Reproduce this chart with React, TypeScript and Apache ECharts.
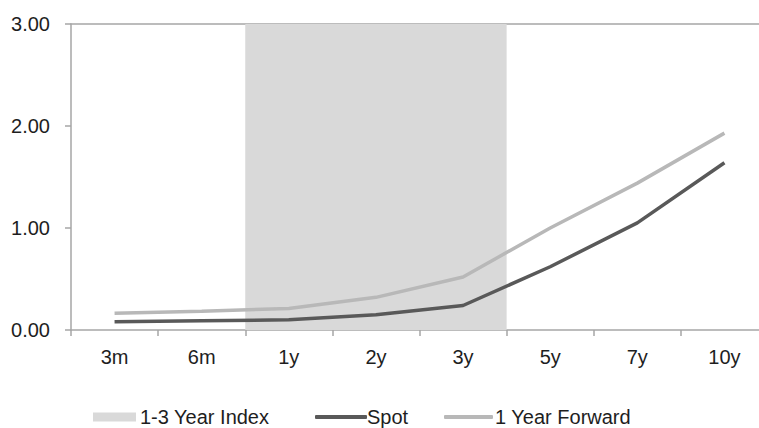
import React, { useEffect, useRef } from "react";
import * as echarts from "echarts";

const categories = ["3m", "6m", "1y", "2y", "3y", "5y", "7y", "10y"];
// 1-3 Year Index band: from the start of "1y" to the end of "3y" (category boundaries)
const bandStartCategory = "1y";
const bandEndCategory = "3y";
const spot = [0.08, 0.09, 0.1, 0.15, 0.24, 0.62, 1.05, 1.64];
const forward = [0.165, 0.185, 0.21, 0.32, 0.52, 1.0, 1.44, 1.93];
const yTicks = [0, 1, 2, 3];

const axisColor = "#a6a6a6";
const textColor = "#1e1e1e";
const bandColor = "#d9d9d9";
const font = "'Liberation Sans', Arial, sans-serif";
const fs = 20;

export default function App() {
  const ref = useRef<HTMLDivElement>(null);
  useEffect(() => {
    document.body.style.margin = "0";
    if (!ref.current) return;
    const chart = echarts.init(ref.current, undefined, { renderer: "svg" });
    const legendText = { fontSize: fs, color: textColor, fontFamily: font };
    const bandFrom = categories.indexOf(bandStartCategory);
    const bandTo = categories.indexOf(bandEndCategory) + 1;
    chart.setOption({
      animation: false,
      textStyle: { fontFamily: font },
      grid: {
        left: 71,
        top: 24,
        width: 697,
        height: 306,
        containLabel: false,
        outerBoundsMode: "none",
      },
      legend: [
        {
          left: 88,
          top: 402,
          itemWidth: 43,
          itemHeight: 9,
          textStyle: { ...legendText, padding: [0, 0, 0, -1] },
          data: [{ name: "1-3 Year Index", icon: "rect" }],
        },
        {
          left: 310,
          top: 402,
          itemWidth: 52,
          itemHeight: 4,
          textStyle: { ...legendText, padding: [0, 0, 0, -5] },
          data: [{ name: "Spot", icon: "roundRect" }],
        },
        {
          left: 439,
          top: 402,
          itemWidth: 49,
          itemHeight: 4,
          textStyle: { ...legendText, padding: [0, 0, 0, -3] },
          data: [{ name: "1 Year Forward", icon: "roundRect" }],
        },
      ],
      xAxis: [
        {
          type: "category",
          data: categories,
          boundaryGap: true,
          axisLine: { show: true, lineStyle: { color: axisColor, width: 1.5 } },
          axisTick: { show: true, length: 6, lineStyle: { color: axisColor, width: 1.5 } },
          axisLabel: { fontSize: fs, color: textColor, margin: 17, fontFamily: font },
          splitLine: { show: false },
        },
        {
          type: "category",
          position: "top",
          data: categories,
          axisLine: { show: true, lineStyle: { color: axisColor, width: 1.5 } },
          axisTick: { show: false },
          axisLabel: { show: false },
          splitLine: { show: false },
        },
        {
          type: "value",
          show: false,
          min: 0,
          max: categories.length,
        },
      ],
      yAxis: {
        type: "value",
        min: yTicks[0],
        max: yTicks[yTicks.length - 1],
        interval: 1,
        axisLine: { show: true, lineStyle: { color: axisColor, width: 1.5 } },
        axisTick: { show: true, length: 6, lineStyle: { color: axisColor, width: 1.5 } },
        axisLabel: {
          fontSize: fs,
          color: textColor,
          margin: 21,
          fontFamily: font,
          formatter: (v: number) => v.toFixed(2),
        },
        splitLine: { show: false },
      },
      series: [
        {
          name: "1-3 Year Index",
          type: "line",
          xAxisIndex: 2,
          data: [],
          symbol: "none",
          itemStyle: { color: bandColor },
          lineStyle: { color: bandColor },
          z: 1,
          markArea: {
            silent: true,
            itemStyle: { color: bandColor, opacity: 1 },
            data: [[{ xAxis: bandFrom }, { xAxis: bandTo }]],
          },
        },
        {
          name: "Spot",
          type: "line",
          data: spot,
          symbol: "none",
          lineStyle: { color: "#595959", width: 3.5 },
          itemStyle: { color: "#595959" },
          z: 3,
        },
        {
          name: "1 Year Forward",
          type: "line",
          data: forward,
          symbol: "none",
          lineStyle: { color: "#b8b8b8", width: 3.5 },
          itemStyle: { color: "#b8b8b8" },
          z: 2,
        },
      ],
    });
    return () => chart.dispose();
  }, []);
  return <div ref={ref} style={{ width: 759, height: 428 }} />;
}
